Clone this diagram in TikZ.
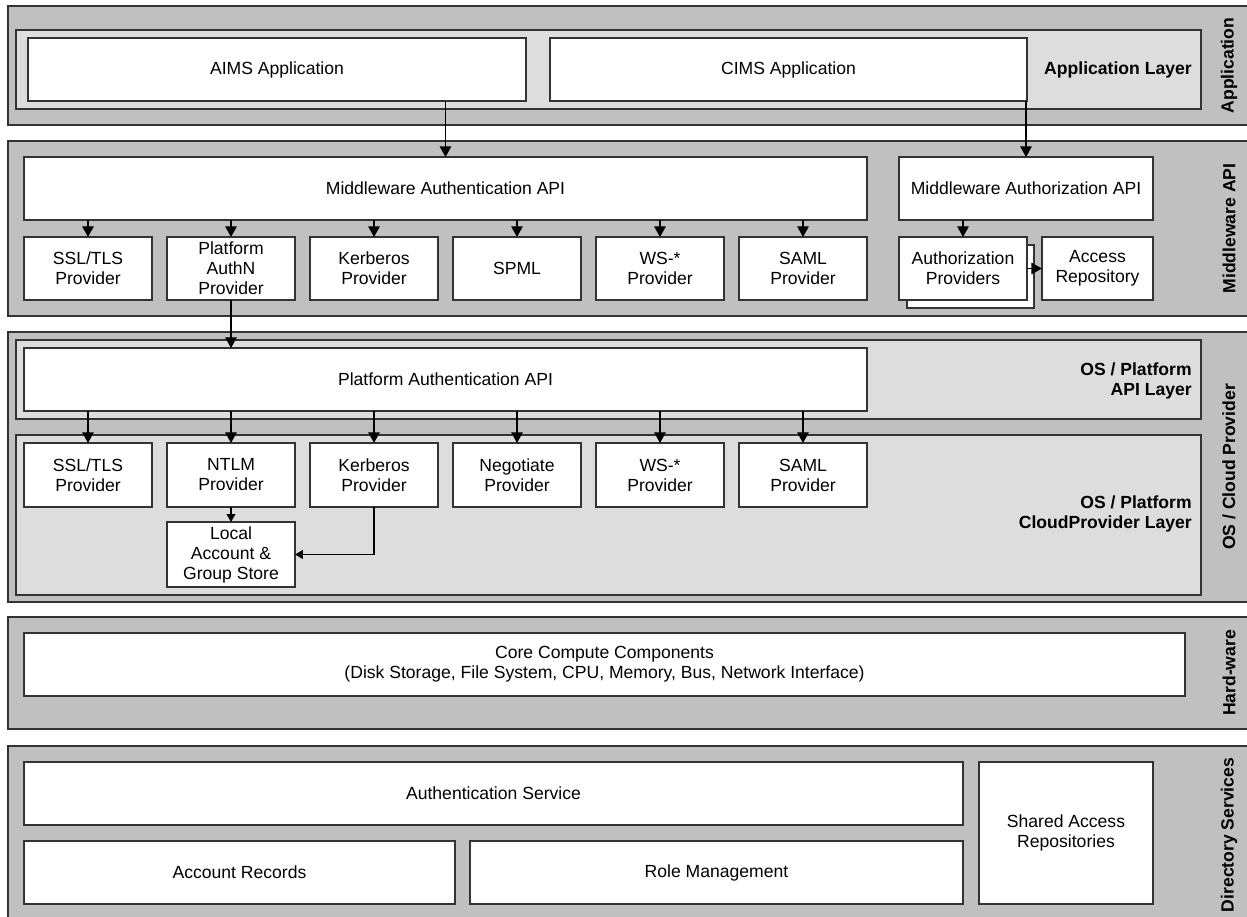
\documentclass[tikz,border=0pt]{standalone}
\usepackage{fontspec}
\setmainfont{Liberation Sans}
\usetikzlibrary{arrows.meta}

\definecolor{bandgray}{HTML}{C0C0C0}
\definecolor{layergray}{HTML}{DDDDDD}
\definecolor{edgegray}{HTML}{333333}

% A rectangle node given by its corners (x1,y1)-(x2,y2) in pixel units
\newcommand\rectnode[6][box]{%
  \node[#1, minimum width={(#4-#2)*0.02cm}, minimum height={(#5-#3)*0.02cm}]
    (#6) at ({(#2+#4)/2},{(#3+#5)/2})}

\tikzset{
  frame/.style={draw=edgegray, line width=0.6pt, inner sep=0pt, outer sep=0pt},
  band/.style={frame, fill=bandgray},
  layer/.style={frame, fill=layergray},
  box/.style={frame, fill=white, align=center,
              font=\fontsize{10}{11.4}\selectfont},
  layerlabel/.style={font=\fontsize{10}{11.4}\selectfont\bfseries,
                     align=right, anchor=east, inner sep=0pt},
  bandlabel/.style={font=\fontsize{10}{12}\selectfont\bfseries,
                    rotate=90, inner sep=0pt},
  link/.style={draw=black, line width=0.6pt,
               -{Triangle[width=6.5pt,length=6pt]}},
  smalllink/.style={draw=black, line width=0.6pt,
               -{Triangle[width=5pt,length=4.5pt]}},
}

\begin{document}
\begin{tikzpicture}[x=0.02cm, y=-0.02cm]
\useasboundingbox (0,0) rectangle (1247,916);
\clip (0,0) rectangle (1247,916);
\fill[white] (0,0) rectangle (1247,916);

% ---------- bands ----------
\rectnode[band]{8}{6}{1252}{125}{appband} {};
\rectnode[band]{8}{141}{1252}{316}{mwband} {};
\rectnode[band]{8}{332}{1252}{602}{osband} {};
\rectnode[band]{8}{617}{1252}{729}{hwband} {};
\rectnode[band]{8}{746}{1252}{922}{dirband} {};

\node[bandlabel] (lapp) at (1229,65.5) {Application};
\node[bandlabel] (lmw)  at (1229,228.5) {Middleware API};
\node[bandlabel] (los)  at (1229,467) {OS / Cloud Provider};
\node[bandlabel] (lhw)  at (1229,673) {Hard-ware};
\node[bandlabel] (ldir) at (1229,835) {Directory Services};

% ---------- application layer ----------
\rectnode[layer]{16}{30}{1201}{109}{applayer} {};
\node[layerlabel] (lapplayer) at (1192,69.5) {Application Layer};
\rectnode{28}{38}{526}{101}{aims} {AIMS Application};
\rectnode{550}{38}{1027}{101}{cims} {CIMS Application};

% ---------- middleware API ----------
\rectnode{24}{157}{867}{220}{mwauthn} {Middleware Authentication API};
\rectnode{899}{157}{1153}{220}{mwauthz} {Middleware Authorization API};

\rectnode{24}{237}{152}{300}{mssl} {SSL/TLS\\Provider};
\rectnode{167}{237}{295}{300}{mpan} {Platform\\AuthN\\Provider};
\rectnode{310}{237}{438}{300}{mkerb} {Kerberos\\Provider};
\rectnode{453}{237}{581}{300}{mspml} {SPML};
\rectnode{596}{237}{724}{300}{mws} {WS-*\\Provider};
\rectnode{739}{237}{867}{300}{msaml} {SAML\\Provider};

\rectnode{907}{245}{1034}{308}{authzback} {};
\rectnode{899}{237}{1027}{300}{authzp} {Authorization\\Providers};
\rectnode{1042}{237}{1153}{300}{accrep} {Access\\Repository};

% ---------- OS / cloud provider ----------
\rectnode[layer]{16}{340}{1201}{419}{apilayer} {};
\node[layerlabel] (lapilayer) at (1192,381) {OS / Platform\\API Layer};
\rectnode[layer]{16}{435}{1201}{595}{cloudlayer} {};
\node[layerlabel] (lcloudlayer) at (1192,514) {OS / Platform\\CloudProvider Layer};

\rectnode{24}{348}{867}{411}{platapi} {Platform Authentication API};

\rectnode{24}{443}{152}{507}{ossl} {SSL/TLS\\Provider};
\rectnode{167}{443}{295}{507}{ontlm} {NTLM\\Provider};
\rectnode{310}{443}{438}{507}{okerb} {Kerberos\\Provider};
\rectnode{453}{443}{581}{507}{oneg} {Negotiate\\Provider};
\rectnode{596}{443}{724}{507}{ows} {WS-*\\Provider};
\rectnode{739}{443}{867}{507}{osaml} {SAML\\Provider};
\rectnode{167}{522}{295}{587}{local} {Local\\Account \&\\Group Store};

% ---------- hardware ----------
\rectnode{24}{633}{1185}{696}{core}
  {Core Compute Components\\(Disk Storage, File System, CPU, Memory, Bus, Network Interface)};

% ---------- directory services ----------
\rectnode{24}{762}{963}{825}{authsvc} {Authentication Service};
\rectnode{24}{841}{455}{904}{accrec} {Account Records};
\rectnode{470}{841}{963}{904}{rolemgmt} {Role Management};
\rectnode{979}{762}{1153}{904}{shared} {Shared Access\\Repositories};

% ---------- connectors ----------
\draw[link] (aims.south -| mwauthn.north) -- (mwauthn.north);
\draw[link] (cims.south -| mwauthz.north) -- (mwauthz.north);

\foreach \p in {mssl,mpan,mkerb,mspml,mws,msaml}
  \draw[link] (mwauthn.south -| \p.north) -- (\p.north);
\draw[link] (mwauthz.south -| authzp.north) -- (authzp.north);
\draw[link] (authzp.east) -- (accrep.west);

\draw[link] (mpan.south) -- (mpan.south |- platapi.north);
\foreach \p in {ossl,ontlm,okerb,oneg,ows,osaml}
  \draw[link] (platapi.south -| \p.north) -- (\p.north);

\draw[smalllink] (ontlm.south) -- (local.north);
\draw[smalllink] (okerb.south) |- (local.east);
\end{tikzpicture}
\end{document}
